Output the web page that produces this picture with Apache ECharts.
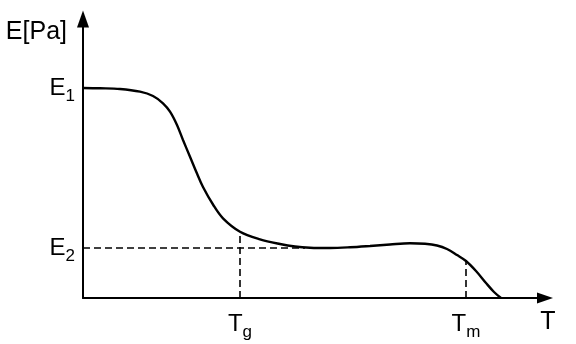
<!DOCTYPE html>
<html>
<head>
<meta charset="utf-8">
<script src="https://cdn.jsdelivr.net/npm/echarts@6/dist/echarts.min.js"></script>
<style>
html,body{margin:0;padding:0;background:#fff;}
#chart{width:576px;height:344px;}
</style>
</head>
<body>
<div id="chart"></div>
<script>
// Temperature (arbitrary units) and modulus (arbitrary units)
var tValues = [0,17,37,57,70,80,87,94,100,107,114,120,130,140,157,177,197,212,227,247,267,287,307,327,342,354,364,374,383,393,403,411,418];
var eValues = [210,209.7,209,206.3,202,194.7,186.3,173,158,141.3,124.5,111,93.5,79.7,66.3,58.7,54,51.5,50.3,50,50.7,52,53.5,54.7,54.2,52.5,49,43,37,27,15,6,0];

// characteristic points
var eTickValues = [210, 50];          // E1, E2
var eTickSubs   = ['1', '2'];
var tTickValues = [157, 383];         // Tg, Tm
var tTickSubs   = ['g', 'm'];
var e2LineEndT  = 222;                // where the E2 dashed line meets the curve
var tgCurveE    = 66.3;               // curve value at Tg
var tmCurveE    = 37;                 // curve value at Tm

var tMax = 462, eMax = 279;
var yName = 'E[Pa]', xName = 'T';

var curve = tValues.map(function (t, i) { return [t, eValues[i]]; });

var font = 'Liberation Sans, Arial, sans-serif';
var richLabel = {
  m: { fontFamily: font, fontSize: 24, color: '#000', lineHeight: 36, verticalAlign: 'middle' },
  s: { fontFamily: font, fontSize: 17, color: '#000', lineHeight: 20, verticalAlign: 'middle', padding: [16, 0, 0, 0] }
};
var dashStyle = { color: '#000', width: 1.6, type: [7, 4] };

var chart = echarts.init(document.getElementById('chart'));
chart.setOption({
  animation: false,
  backgroundColor: '#fff',
  grid: { left: 83, right: 31, top: 19, bottom: 46, containLabel: false, outerBoundsMode: 'none' },
  xAxis: {
    type: 'value', min: 0, max: tMax,
    splitLine: { show: false },
    axisTick: { show: false },
    axisLine: { lineStyle: { color: '#000', width: 2 }, symbol: ['none', 'triangle'], symbolSize: [11, 16] },
    axisLabel: {
      customValues: tTickValues, margin: 8,
      formatter: function (v) { return '{m|T}{s|' + tTickSubs[tTickValues.indexOf(v)] + '}'; },
      rich: richLabel
    },
    name: xName, nameLocation: 'end', nameGap: 3,
    nameTextStyle: { fontFamily: font, fontSize: 25, color: '#000', align: 'center', verticalAlign: 'top', padding: [12, 0, 0, 0] }
  },
  yAxis: {
    type: 'value', min: 0, max: eMax,
    splitLine: { show: false },
    axisTick: { show: false },
    axisLine: { lineStyle: { color: '#000', width: 2 }, symbol: ['none', 'triangle'], symbolSize: [12, 17] },
    axisLabel: {
      customValues: eTickValues, margin: 8,
      formatter: function (v) { return '{m|E}{s|' + eTickSubs[eTickValues.indexOf(v)] + '}'; },
      rich: richLabel
    },
    name: yName, nameLocation: 'end', nameGap: -13,
    nameTextStyle: { fontFamily: font, fontSize: 25, color: '#000', align: 'right', verticalAlign: 'middle', padding: [0, 16, 0, 0] }
  },
  series: [
    { type: 'line', data: [[0, eTickValues[1]], [e2LineEndT, eTickValues[1]]], symbol: 'none', lineStyle: dashStyle, z: 1 },
    { type: 'line', data: [[tTickValues[0], 0], [tTickValues[0], tgCurveE]], symbol: 'none', lineStyle: dashStyle, z: 1 },
    { type: 'line', data: [[tTickValues[1], 0], [tTickValues[1], tmCurveE]], symbol: 'none', lineStyle: dashStyle, z: 1 },
    { type: 'line', data: curve, symbol: 'none', smooth: 0.35, lineStyle: { color: '#000', width: 2.4 }, z: 3 }
  ]
});
</script>
</body>
</html>
